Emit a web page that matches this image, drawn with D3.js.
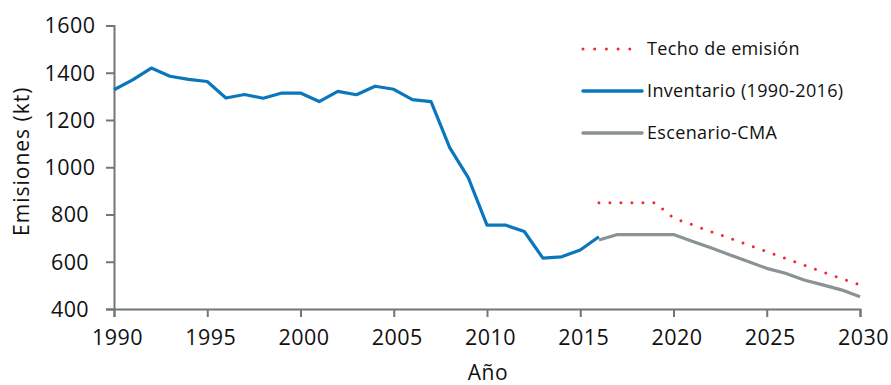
<!DOCTYPE html>
<html>
<head>
<meta charset="utf-8">
<script src="https://cdn.jsdelivr.net/npm/d3@7"></script>
<style>
  html, body { margin: 0; padding: 0; background: #fff; }
  svg { display: block; font-family: "Open Sans", "Noto Sans", sans-serif; }
</style>
</head>
<body>
<svg id="chart" width="891" height="385"></svg>
<script>
// Emisiones anuales (kt): inventario histórico, escenario y techo de emisión
const inventarioYears = d3.range(1990, 2017);
const inventarioValues = [1328, 1370, 1420, 1385, 1372, 1363, 1293, 1308, 1292, 1314, 1314, 1278,
  1321, 1307, 1343, 1330, 1286, 1278, 1083, 955, 755, 755, 728, 615, 621, 650, 706];

const escenarioYears = d3.range(2016, 2031);
const escenarioValues = [692, 715, 715, 715, 715, 687, 659, 630, 601, 572, 551, 523, 502, 481, 452];

const techoYears = d3.range(2016, 2031);
const techoValues = [850, 850, 850, 850, 785, 757, 728, 700, 671, 643, 614, 586, 557, 529, 502];

const xTicks = [1990, 1995, 2000, 2005, 2010, 2015, 2020, 2025, 2030];
const yTicks = [400, 600, 800, 1000, 1200, 1400, 1600];

const legendItems = [
  { label: "Techo de emisión", key: "techo" },
  { label: "Inventario (1990-2016)", key: "inventario" },
  { label: "Escenario-CMA", key: "escenario" }
];

const styles = {
  techo: { color: "#ee2a2f", width: 3, dash: "0 11", cap: "round" },
  inventario: { color: "#0a77bd", width: 3.2, dash: null, cap: "butt" },
  escenario: { color: "#8b9295", width: 3.2, dash: null, cap: "butt" }
};

const axisColor = "#6f7779";
const svg = d3.select("#chart");

const x = d3.scaleLinear().domain([1990, 2030]).range([114, 860]);
const y = d3.scaleLinear().domain([400, 1600]).range([309, 25.5]);

// Ejes
const xAxis = svg.append("g")
  .attr("transform", `translate(0,${y(400)})`)
  .call(d3.axisBottom(x).tickValues(xTicks).tickFormat(d3.format("d")).tickSizeOuter(0).tickSize(8).tickPadding(11));
const yAxis = svg.append("g")
  .attr("transform", `translate(${x(1990)},0)`)
  .call(d3.axisLeft(y).tickValues(yTicks).tickFormat(d3.format("d")).tickSizeOuter(0).tickSize(8).tickPadding(10));

[xAxis, yAxis].forEach(g => {
  g.select(".domain").attr("stroke", axisColor).attr("stroke-width", 2);
  g.selectAll(".tick line").attr("stroke", axisColor).attr("stroke-width", 2);
  g.selectAll(".tick text").attr("fill", "#111")
    .style("font-size", "21.5px")
    .style("letter-spacing", "0.4px")
    .style("font-family", "'Open Sans', sans-serif");
});
xAxis.selectAll(".tick text").attr("dx", 3).attr("dy", "0.8em");
yAxis.selectAll(".tick text").attr("text-anchor", "middle").attr("x", 70 - x(1990)).attr("dy", "0.34em");

// Títulos de ejes
svg.append("text")
  .attr("x", (x(1990) + x(2030)) / 2 + 1)
  .attr("y", 380)
  .attr("text-anchor", "middle")
  .attr("fill", "#111")
  .style("font-size", "21px")
  .style("letter-spacing", "0.5px")
  .text("Año");

svg.append("text")
  .attr("transform", `translate(29,${(y(400) + y(1600)) / 2 - 6}) rotate(-90)`)
  .attr("text-anchor", "middle")
  .attr("fill", "#111")
  .style("font-size", "21px")
  .style("letter-spacing", "1px")
  .text("Emisiones (kt)");

// Series
const line = d3.line().x(d => x(d[0])).y(d => y(d[1]));

function drawSeries(years, values, key) {
  const s = styles[key];
  svg.append("path")
    .datum(d3.zip(years, values))
    .attr("fill", "none")
    .attr("stroke", s.color)
    .attr("stroke-width", s.width)
    .attr("stroke-linejoin", "round")
    .attr("stroke-linecap", s.cap)
    .attr("stroke-dasharray", s.dash)
    .attr("d", line);
}

drawSeries(techoYears, techoValues, "techo");
drawSeries(inventarioYears, inventarioValues, "inventario");
drawSeries(escenarioYears, escenarioValues, "escenario");

// Leyenda
const legend = svg.append("g").attr("transform", "translate(583,49)");
legendItems.forEach((item, i) => {
  const s = styles[item.key];
  const g = legend.append("g").attr("transform", `translate(0,${i * 42})`);
  if (item.key === "techo") {
    g.append("line").attr("x1", 0).attr("x2", 48).attr("y1", 0).attr("y2", 0)
      .attr("stroke", s.color).attr("stroke-width", 3)
      .attr("stroke-linecap", "round").attr("stroke-dasharray", "0 11.7");
  } else {
    g.append("line").attr("x1", 0).attr("x2", 59).attr("y1", 0).attr("y2", 0)
      .attr("stroke", s.color).attr("stroke-width", 3.5).attr("stroke-linecap", "round");
  }
  g.append("text")
    .attr("x", 64).attr("y", 0).attr("dy", "0.35em")
    .attr("fill", "#111")
    .style("font-size", "18px")
    .style("letter-spacing", "0.35px")
    .text(item.label);
});
</script>
</body>
</html>
